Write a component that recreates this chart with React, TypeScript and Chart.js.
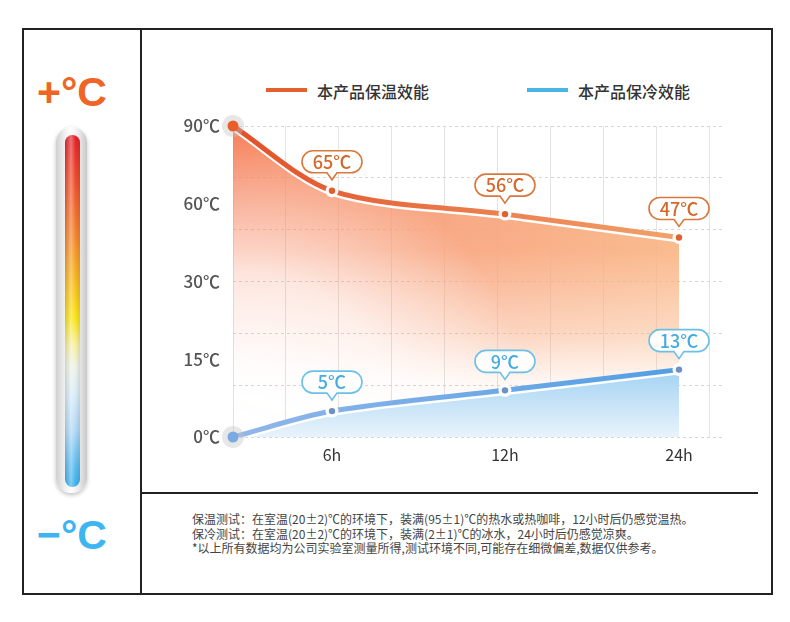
import React, { useEffect, useRef } from 'react';
import { Chart, registerables, LinearScale } from 'chart.js';

// ---------- data ----------
const hours = [0, 6, 12, 24];
const xTickHours = [6, 12, 24];
const yTickValues = [0, 15, 30, 60, 90];
const warmValues = [90, 65, 56, 47];
const coldValues = [0, 5, 9, 13];
const seriesNames = ['本产品保温效能', '本产品保冷效能'];
const notes = [
  '保温测试：在室温(20±2)℃的环境下，装满(95±1)℃的热水或热咖啡，12小时后仍感觉温热。',
  '保冷测试：在室温(20±2)℃的环境下，装满(2±1)℃的冰水，24小时后仍感觉凉爽。',
  '*以上所有数据均为公司实验室测量所得,测试环境不同,可能存在细微偏差,数据仅供参考。',
];

// ---------- piecewise scale ----------
class PiecewiseScale extends LinearScale {
  static id = 'piecewise';
  static defaults = { ...(LinearScale as any).defaults };
  frac(v: number) {
    const s = (this as any).options.stops as number[][];
    let i = 0;
    while (i < s.length - 2 && v > s[i + 1][0]) i++;
    const [v0, f0] = s[i];
    const [v1, f1] = s[i + 1];
    return f0 + ((v - v0) * (f1 - f0)) / (v1 - v0);
  }
  getPixelForValue(v: any) {
    if (v === null || v === undefined || isNaN(v)) return NaN;
    return (this as any).getPixelForDecimal(this.frac(+v));
  }
  getValueForPixel(p: number) {
    const d = (this as any).getDecimalForPixel(p);
    const s = (this as any).options.stops as number[][];
    let i = 0;
    while (i < s.length - 2 && d > s[i + 1][1]) i++;
    const [v0, f0] = s[i];
    const [v1, f1] = s[i + 1];
    return v0 + ((d - f0) * (v1 - v0)) / (f1 - f0);
  }
}

Chart.register(...registerables, PiecewiseScale as any);

const WARM = '#e5602d';
const COLD = '#4ab4e6';
const FONT = '"Noto Sans CJK SC", "Noto Sans", sans-serif';

function warmFill(chart: any) {
  const a = chart.chartArea;
  if (!a) return 'rgba(245,140,100,0.6)';
  const c = document.createElement('canvas');
  c.width = chart.width;
  c.height = chart.height;
  const g = c.getContext('2d')!;
  const h = g.createLinearGradient(a.left, 0, a.right, 0);
  h.addColorStop(0, '#f6845f');
  h.addColorStop(0.45, '#f8a47d');
  h.addColorStop(1, '#fab987');
  g.fillStyle = h;
  g.fillRect(0, 0, c.width, c.height);
  g.globalCompositeOperation = 'destination-in';
  const v = g.createLinearGradient(0, a.top, 0, a.bottom);
  v.addColorStop(0, 'rgba(0,0,0,1)');
  v.addColorStop(0.4, 'rgba(0,0,0,0.92)');
  v.addColorStop(0.66, 'rgba(0,0,0,0.5)');
  v.addColorStop(0.82, 'rgba(0,0,0,0.1)');
  v.addColorStop(1, 'rgba(0,0,0,0)');
  g.fillStyle = v;
  g.fillRect(0, 0, c.width, c.height);
  g.globalCompositeOperation = 'destination-out';
  const r = g.createRadialGradient(a.left, a.bottom, 0, a.left, a.bottom, 300);
  r.addColorStop(0, 'rgba(0,0,0,1)');
  r.addColorStop(0.55, 'rgba(0,0,0,0.72)');
  r.addColorStop(1, 'rgba(0,0,0,0)');
  g.fillStyle = r;
  g.fillRect(0, 0, c.width, c.height);
  return chart.ctx.createPattern(c, 'no-repeat');
}

function coldFill(chart: any) {
  const a = chart.chartArea;
  if (!a) return 'rgba(150,205,245,0.6)';
  const c = document.createElement('canvas');
  c.width = chart.width;
  c.height = chart.height;
  const g = c.getContext('2d')!;
  const v = g.createLinearGradient(0, a.bottom - 75, 0, a.bottom);
  v.addColorStop(0, '#9acef3');
  v.addColorStop(0.5, '#c2e1f7');
  v.addColorStop(1, '#e8f3fb');
  g.fillStyle = v;
  g.fillRect(0, 0, c.width, c.height);
  return chart.ctx.createPattern(c, 'no-repeat');
}

function lineGrad(chart: any, from: string, to: string) {
  const a = chart.chartArea;
  if (!a) return from;
  const gr = chart.ctx.createLinearGradient(a.left, 0, a.right, 0);
  gr.addColorStop(0, from);
  gr.addColorStop(1, to);
  return gr;
}

const lineShadow = {
  id: 'lineShadow',
  beforeDatasetDraw(chart: any) {
    const c = chart.ctx;
    c.save();
    c.shadowColor = '#ffffff';
    c.shadowOffsetX = 0;
    c.shadowOffsetY = 2.5;
    c.shadowBlur = 0;
  },
  afterDatasetDraw(chart: any) {
    chart.ctx.restore();
  },
};

function bubble(ctx: CanvasRenderingContext2D, x: number, y: number, text: string, stroke: string, color: string) {
  const w = 60, h = 22, r = 11;
  const bottom = y - 18;
  const top = bottom - h;
  const left = x - w / 2;
  ctx.save();
  ctx.beginPath();
  ctx.moveTo(left + r, top);
  ctx.lineTo(left + w - r, top);
  ctx.arc(left + w - r, top + r, r, -Math.PI / 2, Math.PI / 2);
  ctx.lineTo(x + 5, bottom);
  ctx.lineTo(x, bottom + 7);
  ctx.lineTo(x - 5, bottom);
  ctx.lineTo(left + r, bottom);
  ctx.arc(left + r, top + r, r, Math.PI / 2, Math.PI * 1.5);
  ctx.closePath();
  ctx.fillStyle = 'rgba(255,255,255,0.92)';
  ctx.fill();
  ctx.lineWidth = 1.6;
  ctx.strokeStyle = stroke;
  ctx.stroke();
  ctx.fillStyle = color;
  ctx.font = `500 18px ${FONT}`;
  ctx.textAlign = 'center';
  ctx.textBaseline = 'middle';
  ctx.fillText(text, x, top + h / 2 + 0.5);
  ctx.restore();
}

const markers = {
  id: 'markers',
  afterDatasetsDraw(chart: any) {
    const ctx = chart.ctx;
    chart.data.datasets.forEach((ds: any, di: number) => {
      const meta = chart.getDatasetMeta(di);
      const st = ds.markerStyle;
      meta.data.forEach((pt: any, i: number) => {
        const { x, y } = pt;
        ctx.save();
        if (i === 0) {
          ctx.beginPath();
          ctx.arc(x, y, 11, 0, Math.PI * 2);
          ctx.fillStyle = 'rgba(195,195,195,0.4)';
          ctx.fill();
          ctx.beginPath();
          ctx.arc(x, y, 5.5, 0, Math.PI * 2);
          ctx.fillStyle = st.start;
          ctx.fill();
        } else {
          ctx.beginPath();
          ctx.arc(x, y, 6.5, 0, Math.PI * 2);
          ctx.fillStyle = 'rgba(255,255,255,0.95)';
          ctx.fill();
          ctx.beginPath();
          ctx.arc(x, y, 3.2, 0, Math.PI * 2);
          ctx.fillStyle = st.dot;
          ctx.fill();
        }
        ctx.restore();
      });
      meta.data.forEach((pt: any, i: number) => {
        if (i === 0) return;
        bubble(ctx, pt.x, pt.y, ds.data[i].y + '℃', st.stroke, st.text);
      });
    });
  },
};

export default function App() {
  const ref = useRef<HTMLCanvasElement>(null);

  useEffect(() => {
    const chart = new Chart(ref.current as HTMLCanvasElement, {
      type: 'line',
      data: {
        datasets: [
          {
            label: seriesNames[0],
            data: hours.map((h, i) => ({ x: h, y: warmValues[i] })),
            borderColor: (c: any) => lineGrad(c.chart, '#e24f28', '#f4aa70'),
            backgroundColor: (c: any) => warmFill(c.chart),
            fill: 'origin',
            borderWidth: 5,
            tension: 0.3,
            pointRadius: 0,
            order: 2,
            markerStyle: { start: '#e85f2b', dot: '#e0602e', stroke: '#d9783c', text: '#d4682a' },
          } as any,
          {
            label: seriesNames[1],
            data: hours.map((h, i) => ({ x: h, y: coldValues[i] })),
            borderColor: (c: any) => lineGrad(c.chart, '#92b6ea', '#4a9de2'),
            backgroundColor: (c: any) => coldFill(c.chart),
            fill: 'origin',
            borderWidth: 5,
            tension: 0.3,
            pointRadius: 0,
            order: 1,
            markerStyle: { start: '#7ba9e2', dot: '#6f90c6', stroke: '#6cc0e6', text: '#45ace0' },
          } as any,
        ],
      },
      options: {
        responsive: false,
        animation: false,
        events: [],
        layout: { padding: { top: 97, right: 46, left: 0, bottom: 0 } },
        plugins: {
          legend: { display: false },
          tooltip: { enabled: false },
        },
        scales: {
          x: {
            type: 'piecewise' as any,
            min: 0,
            max: 27.17,
            stops: [[0, 0], [6, 0.2012], [12, 0.5528], [24, 0.9065], [27.17, 1]],
            afterBuildTicks: (s: any) => {
              s.ticks = xTickHours.map((v) => ({ value: v }));
            },
            afterFit: (s: any) => {
              s.height = 55;
            },
            grid: { display: false, drawTicks: false },
            border: { display: false },
            ticks: {
              autoSkip: false,
              maxRotation: 0,
              padding: 8,
              color: '#333',
              font: { family: FONT, size: 16 },
              callback: (v: any) => v + 'h',
            },
          } as any,
          y: {
            type: 'piecewise' as any,
            min: 0,
            max: 90,
            stops: yTickValues.map((v, i) => [v, i / (yTickValues.length - 1)]),
            afterBuildTicks: (s: any) => {
              s.ticks = yTickValues.map((v) => ({ value: v }));
            },
            afterFit: (s: any) => {
              s.width = 91;
            },
            grid: { display: false, drawTicks: false },
            border: { display: false },
            ticks: {
              autoSkip: false,
              padding: 13,
              color: '#555',
              font: { family: FONT, size: 17, weight: 500 },
              callback: (v: any) => v + '℃',
            },
          } as any,
          gx: {
            type: 'linear',
            position: 'bottom',
            min: 0,
            max: 9.3,
            afterFit: (s: any) => {
              s.height = 0;
            },
            ticks: { display: false, stepSize: 1, includeBounds: false },
            grid: { color: '#e3e3e3', lineWidth: 1, drawTicks: false },
            border: { display: false },
          },
          gy: {
            type: 'linear',
            position: 'left',
            min: 0,
            max: 6,
            afterFit: (s: any) => {
              s.width = 0;
            },
            ticks: { display: false, stepSize: 1 },
            grid: { color: '#d6d6d6', lineWidth: 1, drawTicks: false },
            border: { display: false, dash: [3, 3] },
          } as any,
        },
      } as any,
      plugins: [lineShadow, markers],
    });
    return () => chart.destroy();
  }, []);

  const legendColors = [WARM, COLD];
  const legendLeft = [266, 527];

  return (
    <div
      style={{
        position: 'absolute',
        left: 0,
        top: 0,
        width: 790,
        height: 622,
        background: '#fff',
        fontFamily: FONT,
        overflow: 'hidden',
      }}
    >
      {/* frame */}
      <div style={{ position: 'absolute', left: 22, top: 28, width: 751, height: 567, boxSizing: 'border-box', border: '2px solid #222' }} />
      <div style={{ position: 'absolute', left: 140, top: 28, width: 2, height: 567, background: '#222' }} />
      <div style={{ position: 'absolute', left: 140, top: 492, width: 618, height: 2, background: '#222' }} />

      {/* thermometer */}
      <div
        style={{
          position: 'absolute',
          left: 37,
          top: 71,
          fontFamily: '"Liberation Sans", Arial, sans-serif',
          fontWeight: 'bold',
          fontSize: 41,
          lineHeight: '42px',
          color: '#ee6526',
          whiteSpace: 'nowrap',
        }}
      >
        +°C
      </div>
      <div
        style={{
          position: 'absolute',
          left: 56,
          top: 127,
          width: 31,
          height: 366,
          borderRadius: 16,
          background: 'linear-gradient(to right, #cfcfcf, #f2f2f2 30%, #ffffff 50%, #ececec 72%, #c8c8c8)',
          boxShadow: '0 2px 4px rgba(0,0,0,0.25)',
        }}
      />
      <div
        style={{
          position: 'absolute',
          left: 65,
          top: 135,
          width: 15,
          height: 352,
          borderRadius: 8,
          background:
            'linear-gradient(to bottom, #e5202a 0%, #ef4a2c 12%, #f5832e 28%, #f8b322 40%, #fbe416 52%, #f6f0a8 60%, #eef2e8 66%, #d6ebf8 74%, #b0d8f5 84%, #5bbcf0 94%, #3cb0ef 100%)',
        }}
      />
      <div
        style={{
          position: 'absolute',
          left: 65,
          top: 135,
          width: 15,
          height: 352,
          borderRadius: 8,
          background: 'linear-gradient(to right, rgba(0,0,0,0.12), rgba(255,255,255,0.35) 40%, rgba(255,255,255,0) 70%, rgba(0,0,0,0.1))',
        }}
      />
      <div
        style={{
          position: 'absolute',
          left: 37,
          top: 514,
          fontFamily: '"Liberation Sans", Arial, sans-serif',
          fontWeight: 'bold',
          fontSize: 41,
          lineHeight: '42px',
          color: '#3db5f0',
          whiteSpace: 'nowrap',
        }}
      >
        −°C
      </div>

      {/* legend */}
      {seriesNames.map((name, i) => (
        <React.Fragment key={name}>
          <div style={{ position: 'absolute', left: legendLeft[i], top: 88, width: 41, height: 4, background: legendColors[i] }} />
          <div
            style={{
              position: 'absolute',
              left: legendLeft[i] + 51,
              top: 79,
              fontSize: 16,
              lineHeight: '24px',
              fontWeight: 500,
              color: '#333',
              whiteSpace: 'nowrap',
            }}
          >
            {name}
          </div>
        </React.Fragment>
      ))}

      <canvas
        ref={ref}
        width={629}
        height={463}
        style={{ position: 'absolute', left: 142, top: 29, width: 629, height: 463 }}
      />

      {/* notes */}
      <div style={{ position: 'absolute', left: 192, top: 512, fontSize: 12, lineHeight: '14.5px', color: '#444', whiteSpace: 'nowrap' }}>
        {notes.map((n) => (
          <div key={n}>{n}</div>
        ))}
      </div>
    </div>
  );
}
